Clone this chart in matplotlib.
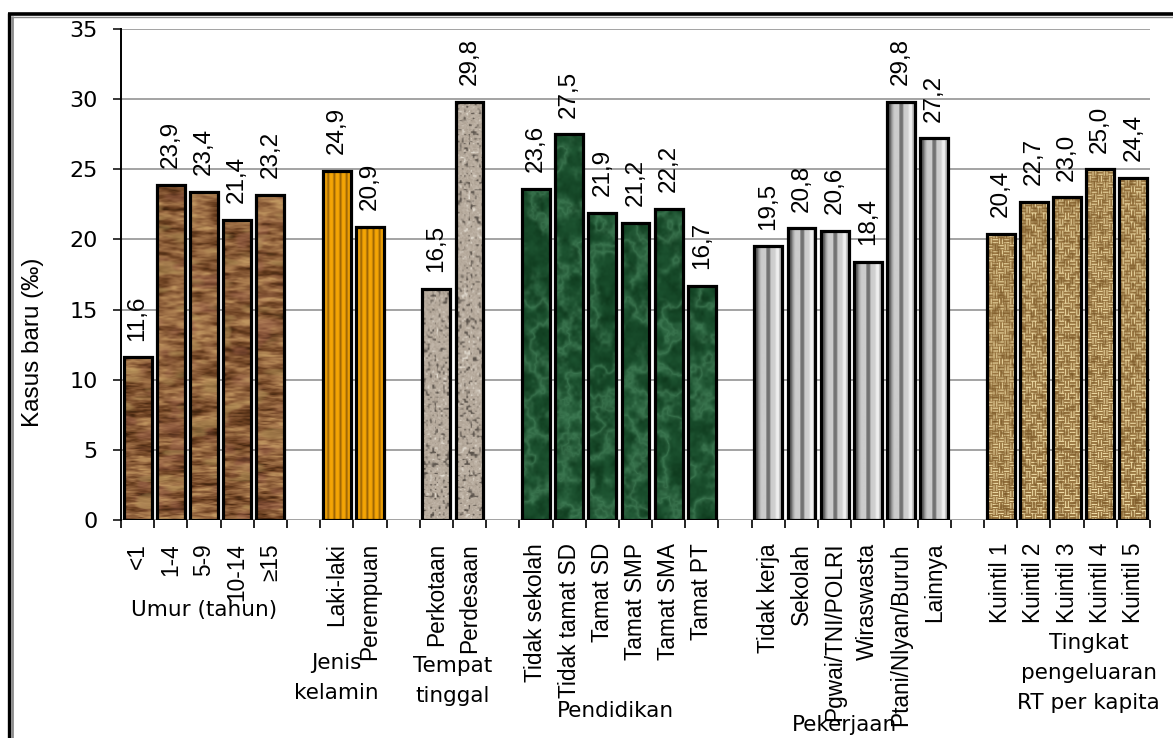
import numpy as np
import matplotlib
matplotlib.use("Agg")
import matplotlib.pyplot as plt
from matplotlib.colors import to_rgb
from matplotlib.lines import Line2D
from matplotlib.transforms import blended_transform_factory

plt.rcParams['font.family'] = ['Liberation Sans', 'DejaVu Sans']
WIDE = ['DejaVu Sans']

# ---- data -------------------------------------------------------------
umur_labels = ["<1", "1-4", "5-9", "10-14", "≥15"]
umur_values = [11.6, 23.9, 23.4, 21.4, 23.2]

kelamin_labels = ["Laki-laki", "Perempuan"]
kelamin_values = [24.9, 20.9]

tempat_labels = ["Perkotaan", "Perdesaan"]
tempat_values = [16.5, 29.8]

pendidikan_labels = ["Tidak sekolah", "Tidak tamat SD", "Tamat SD",
                     "Tamat SMP", "Tamat SMA", "Tamat PT"]
pendidikan_values = [23.6, 27.5, 21.9, 21.2, 22.2, 16.7]

pekerjaan_labels = ["Tidak kerja", "Sekolah", "Pgwai/TNI/POLRI",
                    "Wiraswasta", "Ptani/Nlyan/Buruh", "Lainnya"]
pekerjaan_values = [19.5, 20.8, 20.6, 18.4, 29.8, 27.2]

kuintil_labels = ["Kuintil 1", "Kuintil 2", "Kuintil 3", "Kuintil 4", "Kuintil 5"]
kuintil_values = [20.4, 22.7, 23.0, 25.0, 24.4]

group_titles = ["Umur (tahun)", "Jenis\nkelamin", "Tempat\ntinggal",
                "Pendidikan", "Pekerjaan", "Tingkat\npengeluaran\nRT per kapita"]

y_label = "Kasus baru (‰)"

groups = [
    (umur_labels, umur_values, "wood"),
    (kelamin_labels, kelamin_values, "orange"),
    (tempat_labels, tempat_values, "granite"),
    (pendidikan_labels, pendidikan_values, "marble"),
    (pekerjaan_labels, pekerjaan_values, "steel"),
    (kuintil_labels, kuintil_values, "burlap"),
]

# ---- texture helpers ----------------------------------------------------
def _hash(a, b, seed):
    v = np.sin(a * 127.1 + b * 311.7 + seed * 17.31) * 43758.5453
    return v - np.floor(v)


def vnoise(x, y, seed):
    ix, iy = np.floor(x), np.floor(y)
    fx, fy = x - ix, y - iy
    ux, uy = fx * fx * (3 - 2 * fx), fy * fy * (3 - 2 * fy)
    a = _hash(ix, iy, seed)
    b = _hash(ix + 1, iy, seed)
    c = _hash(ix, iy + 1, seed)
    d = _hash(ix + 1, iy + 1, seed)
    return (a * (1 - ux) + b * ux) * (1 - uy) + (c * (1 - ux) + d * ux) * uy


def fbm(x, y, seed, octaves=3):
    total, amp, norm = 0.0, 1.0, 0.0
    for o in range(octaves):
        total = total + amp * vnoise(x * 2 ** o, y * 2 ** o, seed + o)
        norm += amp
        amp *= 0.5
    return total / norm


def ramp(t, colors):
    colors = np.array([to_rgb(c) for c in colors], float)
    t = np.clip(t, 0, 1) * (len(colors) - 1)
    i = np.clip(np.floor(t).astype(int), 0, len(colors) - 2)
    f = (t - i)[..., None]
    return colors[i] * (1 - f) + colors[i + 1] * f


def mix(a, b, w):
    a = np.asarray(a, float)
    b = np.asarray(b, float)
    return a * (1 - w[..., None]) + b * w[..., None]


def texture(kind, k, rows, cols):
    yy, xx = np.mgrid[0:rows, 0:cols].astype(float)
    off = 37.0 * k
    if kind == "wood":
        n = 0.65 * fbm(xx / 30 + off, yy / 5 + off, 1, 3) + 0.35 * fbm(xx / 9, yy / 1.6 + off, 7, 2)
        n = (n - 0.25) / 0.5
        rgb = ramp(n, ["#42240e", "#6a3f20", "#8a5c38", "#a6784c", "#c09660"])
        pink = np.clip((fbm(xx / 20 + off, yy / 14, 11, 2) - 0.55) * 3, 0, 0.6)
        rgb = mix(rgb, (0.60, 0.36, 0.30), pink * 0.6)
        tan = np.clip((fbm(xx / 25, yy / 9 + off, 21, 2) - 0.6) * 3, 0, 0.5)
        rgb = mix(rgb, (0.72, 0.60, 0.36), tan)
    elif kind == "orange":
        d = 0.5 + 0.5 * np.cos(2 * np.pi * (xx + 1.5) / 6.6)
        rgb = mix((0.96, 0.65, 0.02), (0.58, 0.37, 0.02), d ** 3)
    elif kind == "granite":
        n1 = vnoise(xx / 2.3 + off, yy / 2.3, 3)
        n2 = vnoise(xx / 1.2, yy / 1.2 + off, 5)
        base = ramp(0.5 * n2 + 0.25, ["#9e9284", "#b8ac9e", "#cfc5ba"])
        rgb = mix(base, (0.36, 0.33, 0.30), np.clip((n1 - 0.68) * 4, 0, 1))
        rgb = mix(rgb, (0.92, 0.90, 0.86), np.clip((0.2 - n1) * 5, 0, 1))
    elif kind == "marble":
        n = fbm(xx / 22 + off, yy / 22 + off, 4, 4)
        vein = np.clip(1 - np.abs(n - 0.5) * 5, 0, 1) ** 2
        base = ramp(fbm(xx / 10, yy / 10 + off, 9, 3), ["#0b3318", "#164828", "#215a36"])
        rgb = mix(base, (0.36, 0.62, 0.45), vein * 0.5)
    elif kind == "steel":
        stops = [0, 0.10, 0.18, 0.26, 0.42, 0.46, 0.56, 0.60, 0.76, 0.80, 0.88, 0.92, 0.97, 1.0]
        greys = [0.50, 0.32, 0.62, 0.80, 0.80, 0.45, 0.45, 0.80, 0.82, 0.94, 0.94, 0.72, 0.70, 0.20]
        g = np.interp((xx + 0.5) / cols, stops, greys)
        rgb = np.stack([g, g, g], axis=-1)
    else:  # burlap weave
        cell = 3.0
        i, j = np.floor(xx / cell), np.floor((yy + off) / cell)
        horiz = ((np.floor(i / 2) + np.floor(j / 2)) % 2) == 0
        t = np.where(horiz, np.abs((yy % cell) - 1) / 1.0, np.abs((xx % cell) - 1) / 1.0)
        rgb = ramp(t * 0.9, ["#f2e0aa", "#cfb078", "#8e6a36"])
        dark = np.clip((fbm(xx / 4 + off, yy / 4, 13, 2) - 0.45) * 2.2, 0, 1)
        rgb = mix(rgb, (0.46, 0.32, 0.13), dark * 0.75)
    return np.clip(rgb, 0, 1)


# ---- figure -------------------------------------------------------------
W, H = 1173, 738
fig = plt.figure(figsize=(W / 100, H / 100), dpi=100)
ax = fig.add_axes([121 / W, (H - 520) / H, (1150 - 121) / W, (520 - 29) / H])

YMAX = 35
x_all, v_all, lab_all, kind_all, centers = [], [], [], [], []
pos = 0
for labels, values, kind in groups:
    xs = list(range(pos, pos + len(values)))
    x_all += xs
    v_all += values
    lab_all += labels
    kind_all += [kind] * len(values)
    centers.append(np.mean(xs))
    pos += len(values) + 1

bars = ax.bar(x_all, v_all, width=0.84, facecolor="none",
              edgecolor="black", linewidth=2.3, zorder=3)

counter = {}
for bar, kind in zip(bars, kind_all):
    k = counter.get(kind, 0)
    counter[kind] = k + 1
    tex = texture(kind, k, 491, 30)
    x0 = bar.get_x()
    im = ax.imshow(tex, extent=(x0, x0 + bar.get_width(), 0, YMAX),
                   aspect="auto", interpolation="bilinear", zorder=2)
    im.set_clip_path(bar)

# value labels
for x, v in zip(x_all, v_all):
    ax.annotate(f"{v:.1f}".replace(".", ","), xy=(x, v), xytext=(0, 12),
                textcoords="offset points", rotation=90, ha="center",
                va="bottom", fontsize=17.5, color="black")

ax.set_xlim(-0.5, pos - 1.5)
ax.set_ylim(0, YMAX)
ax.set_yticks(np.arange(0, YMAX + 1, 5))
ax.tick_params(axis="y", length=5.8, width=1.1, pad=11, labelsize=16)
for t in ax.get_yticklabels():
    t.set_family(WIDE)
ax.yaxis.grid(True, color="#8a8a8a", linewidth=1.1)
ax.set_axisbelow(True)

ax.set_xticks(x_all)
ax.set_xticklabels(lab_all, rotation=90, fontsize=16.3, va="top", ha="center")
edges = sorted(set([x - 0.5 for x in x_all] + [x + 0.5 for x in x_all]))
ax.set_xticks(edges, minor=True)
ax.tick_params(axis="x", which="major", length=0, pad=16.5)
ax.tick_params(axis="x", which="minor", length=5.8, width=1.2, color="black")

for s in ["top", "right", "bottom"]:
    ax.spines[s].set_visible(False)
ax.spines["left"].set_linewidth(1.4)

# group titles under the category labels
trans = blended_transform_factory(ax.transData, fig.transFigure)
title_pos = [(0.0, 610), (-0.5, 678), (0.0, 681), (-0.1, 711), (-0.2, 725), (0.65, 673)]
for c, title, (dx, ypix) in zip(centers, group_titles, title_pos):
    ax.text(c + dx, 1 - ypix / H, title, transform=trans, ha="center",
            va="center", fontsize=15.5, linespacing=1.65, family=WIDE)

fig.text(33 / W, 1 - 342 / H, y_label, rotation=90, ha="center",
         va="center", fontsize=17.5)

# outer frame of the chart
def fline(xs, ys, color, lw):
    fig.add_artist(Line2D([x / W for x in xs], [1 - y / H for y in ys],
                          color=color, linewidth=lw, transform=fig.transFigure,
                          solid_capstyle="butt"))

fline([9, 9], [13, H + 5], "black", 2.4)
fline([7.5, W + 5], [14, 14], "black", 2.6)
fline([11.8, 11.8], [16, H + 5], "#8c8c8c", 2.0)
fline([11, W + 5], [16.8, 16.8], "#8c8c8c", 1.0)

fig.savefig("out.png", dpi=100)
